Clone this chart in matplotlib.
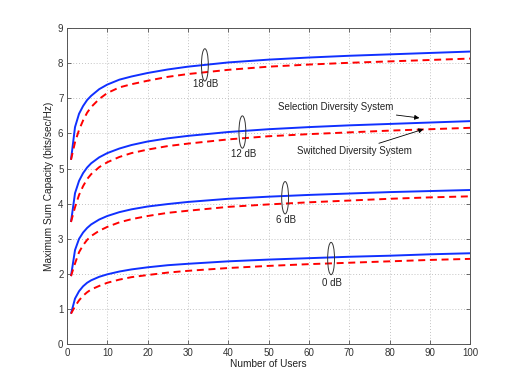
import matplotlib
matplotlib.use("Agg")
import matplotlib.pyplot as plt
from matplotlib.patches import Ellipse

plt.rcParams['font.family'] = ['Liberation Sans', 'DejaVu Sans']

users = [1, 2, 3, 4, 5, 6, 8, 10, 13, 16, 20, 25, 30, 40, 50, 60, 70, 80, 90, 100]

sel_0dB  = [0.87, 1.30, 1.51, 1.65, 1.75, 1.82, 1.92, 1.99, 2.07, 2.13, 2.19, 2.25, 2.29, 2.36, 2.41, 2.45, 2.49, 2.52, 2.56, 2.59]
sw_0dB   = [0.87, 1.08, 1.25, 1.38, 1.48, 1.56, 1.66, 1.75, 1.84, 1.91, 1.97, 2.04, 2.09, 2.17, 2.23, 2.28, 2.32, 2.36, 2.40, 2.43]
sel_6dB  = [1.94, 2.68, 3.00, 3.18, 3.31, 3.41, 3.55, 3.65, 3.76, 3.84, 3.92, 3.99, 4.05, 4.14, 4.20, 4.25, 4.29, 4.33, 4.36, 4.39]
sw_6dB   = [1.94, 2.30, 2.62, 2.82, 2.97, 3.08, 3.23, 3.34, 3.47, 3.56, 3.65, 3.74, 3.80, 3.91, 3.98, 4.04, 4.09, 4.14, 4.18, 4.21]
sel_12dB = [3.48, 4.30, 4.65, 4.87, 5.03, 5.15, 5.32, 5.44, 5.57, 5.67, 5.77, 5.86, 5.93, 6.04, 6.12, 6.18, 6.23, 6.27, 6.31, 6.35]
sw_12dB  = [3.48, 3.90, 4.25, 4.50, 4.70, 4.84, 5.04, 5.18, 5.33, 5.44, 5.54, 5.64, 5.71, 5.83, 5.92, 5.98, 6.03, 6.08, 6.12, 6.16]
sel_18dB = [5.25, 6.18, 6.56, 6.78, 6.95, 7.07, 7.26, 7.39, 7.53, 7.62, 7.72, 7.82, 7.90, 8.02, 8.10, 8.16, 8.21, 8.25, 8.29, 8.33]
sw_18dB  = [5.25, 5.75, 6.10, 6.37, 6.59, 6.75, 6.98, 7.15, 7.31, 7.40, 7.50, 7.61, 7.69, 7.81, 7.90, 7.96, 8.01, 8.05, 8.09, 8.13]

snr_labels = ['0 dB', '6 dB', '12 dB', '18 dB']
ellipse_x = [65.5, 54.1, 43.5, 34.2]
ellipse_y = [2.44, 4.17, 6.04, 7.95]
label_y = [1.75, 3.53, 5.41, 7.40]

fig = plt.figure(figsize=(5.19, 3.89), dpi=100)
ax = fig.add_axes([0.129, 0.115, 0.777, 0.813])

blue = '#1030ff'
red = '#ff0000'
for sel, sw in [(sel_0dB, sw_0dB), (sel_6dB, sw_6dB), (sel_12dB, sw_12dB), (sel_18dB, sw_18dB)]:
    ax.plot(users, sel, color=blue, lw=1.4, solid_capstyle='butt')
    ax.plot(users, sw, color=red, lw=1.4, ls=(0, (3.6, 2.4)))

for lab, ex, ey, ly in zip(snr_labels, ellipse_x, ellipse_y, label_y):
    ax.add_patch(Ellipse((ex, ey), 1.7, 0.92, fill=False, ec='#333333', lw=0.7, zorder=5))
    ax.text(ex + 0.3, ly, lab, ha='center', va='center', fontsize=7, color='#222222')

ax.annotate('Selection Diversity System', xy=(87.4, 6.44), xytext=(81.0, 6.74),
            ha='right', va='center', fontsize=7, color='#222222',
            arrowprops=dict(arrowstyle='-|>', color='black', lw=0.6, mutation_scale=7, shrinkA=0, shrinkB=0))
ax.annotate('Switched Diversity System', xy=(88.4, 6.12), xytext=(85.5, 5.64),
            ha='right', va='top', fontsize=7, color='#222222',
            arrowprops=dict(arrowstyle='-|>', color='black', lw=0.6, mutation_scale=7, shrinkA=0, shrinkB=0))

ax.set_xlim(0, 100)
ax.set_ylim(0, 9)
ax.set_xticks(range(0, 101, 10))
ax.set_yticks(range(0, 10))
ax.grid(True, ls=(0, (1, 2.5)), color='#b0b0b0', lw=0.6)
ax.tick_params(direction='in', top=True, right=True, labelsize=7, length=3, width=0.5, colors='#333333', pad=2.5)
for s in ax.spines.values():
    s.set_color('#555555')
    s.set_linewidth(0.7)
ax.set_xlabel('Number of Users', fontsize=7.3, labelpad=1, color='#222222')
ax.set_ylabel('Maximum Sum Capacity (bits/sec/Hz)', fontsize=7.3, labelpad=3, color='#222222')

fig.savefig('out.png', dpi=100)
